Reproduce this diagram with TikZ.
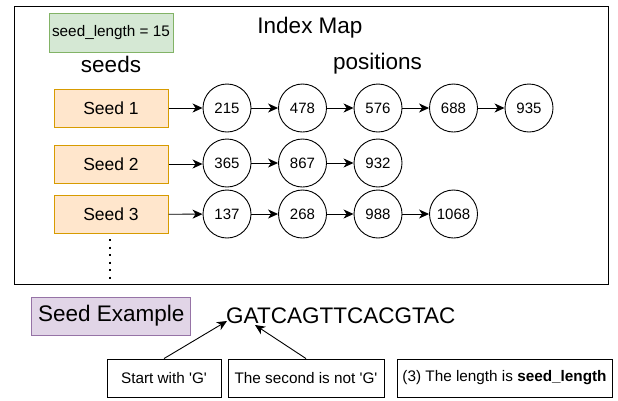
\documentclass[tikz,border=0pt]{standalone}
\usepackage{fontspec}
\setmainfont{Liberation Sans}
\newfontface\qfont{Liberation Sans}
\usetikzlibrary{arrows.meta}
\definecolor{orfill}{HTML}{FFE6CC}
\definecolor{ordraw}{HTML}{D79B00}
\definecolor{grfill}{HTML}{D5E8D4}
\definecolor{grdraw}{HTML}{82B366}
\definecolor{pufill}{HTML}{E1D5E7}
\definecolor{pudraw}{HTML}{9673A6}
\newcommand{\sq}{{\qfont'}}
\tikzset{
  seedbox/.style={draw=ordraw, fill=orfill, line width=1pt, minimum width=114pt, minimum height=38pt, inner sep=0pt, font=\fontsize{17.5}{19}\selectfont},
  posnode/.style={draw, circle, line width=0.9pt, minimum size=48pt, inner sep=0pt, font=\fontsize{15}{17}\selectfont},
  conn/.style={-{Stealth[length=10pt,width=9pt,inset=3pt]}, line width=0.9pt},
  notebox/.style={draw, line width=0.9pt, minimum height=38pt, inner sep=0pt, font=\fontsize{15.3}{17}\selectfont},
  big/.style={font=\fontsize{22.5}{25}\selectfont, inner sep=0pt}
}
\begin{document}
\begin{tikzpicture}[x=1pt,y=-1pt]
\useasboundingbox (0,0) rectangle (618,400);
\node[draw, line width=1.1pt, minimum width=594pt, minimum height=278.5pt, inner sep=0pt, anchor=north west] (frame) at (13.5,5.5) {};
\node[draw=grdraw, fill=grfill, line width=1pt, minimum width=124pt, minimum height=39pt, inner sep=0pt, font=\fontsize{15.3}{17}\selectfont] (len) at (111,32.5) {seed\_length = 15};
\node[big] (title) at (310,27.5) {Index Map};
\node[big] (seeds) at (111,64) {seeds};
\node[big] (positions) at (377.5,64) {positions};

\node[seedbox] (s1) at (111,108) {Seed 1};
\node[seedbox] (s2) at (111,164) {Seed 2};
\node[seedbox] (s3) at (111,214.5) {Seed 3};

\node[posnode] (a1) at (227,108) {215};
\node[posnode] (a2) at (302.5,108) {478};
\node[posnode] (a3) at (378,108) {576};
\node[posnode] (a4) at (453.5,108) {688};
\node[posnode] (a5) at (529,108) {935};
\node[posnode] (b1) at (227,163) {365};
\node[posnode] (b2) at (302.5,163) {867};
\node[posnode] (b3) at (378,163) {932};
\node[posnode] (c1) at (227,214) {137};
\node[posnode] (c2) at (302.5,214) {268};
\node[posnode] (c3) at (378,214) {988};
\node[posnode] (c4) at (453.5,214) {1068};

\draw[conn] (s1) -- (a1);
\draw[conn] (a1) -- (a2);
\draw[conn] (a2) -- (a3);
\draw[conn] (a3) -- (a4);
\draw[conn] (a4) -- (a5);
\draw[conn] (s2.east) -- (b1.west |- s2.east);
\draw[conn] (b1) -- (b2);
\draw[conn] (b2) -- (b3);
\draw[conn] (s3) -- (c1);
\draw[conn] (c1) -- (c2);
\draw[conn] (c2) -- (c3);
\draw[conn] (c3) -- (c4);

\coordinate (dotend) at (110,282);
\draw[line width=2pt, dash pattern=on 2pt off 5.5pt] (s3.south) ++(-1,5) -- (dotend);

\node[draw=pudraw, fill=pufill, line width=1pt, minimum width=159pt, minimum height=38pt, inner sep=0pt, font=\fontsize{22.5}{25}\selectfont] (ex) at (111.2,316) {Seed Example};
\node[font=\fontsize{22.5}{25}\selectfont, inner sep=0pt, anchor=west] (seq) at (226,315.5) {GATCAGTTCACGTAC};
\coordinate (gpt) at (227,321);
\coordinate (apt) at (255,325);

\node[notebox, minimum width=114pt] (n1) at (164,378) {Start with \sq G\sq};
\node[notebox, minimum width=156pt] (n2) at (306,378) {The second is not \sq G\sq};
\node[notebox, minimum width=215pt] (n3) at (504.5,378) {(3) The length is \textbf{seed\_length}};

\draw[conn] (n1.north) -- (gpt);
\draw[conn] (n2.north) -- (apt);
\end{tikzpicture}
\end{document}
